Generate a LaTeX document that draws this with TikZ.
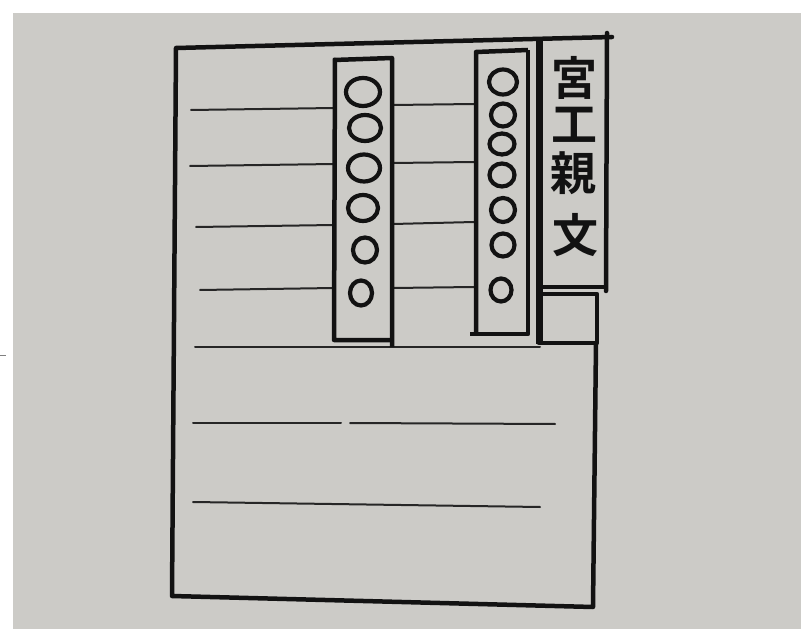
\documentclass[tikz,border=0pt]{standalone}
\usepackage{fontspec}
\newfontfamily\cjk{Noto Sans CJK JP}[BoldFont={Noto Sans CJK JP Bold}]
\definecolor{paper}{HTML}{CCCBC7}
\definecolor{ink}{HTML}{121212}
\definecolor{pencil}{HTML}{262626}
\tikzset{
  frame/.style={draw=ink, line width=4.5pt, line join=round, line cap=round},
  column/.style={draw=ink, line width=4.5pt, line join=round},
  rule/.style={draw=pencil, line width=2pt, line cap=round},
  ring/.style={draw=ink, line width=4.2pt},
  glyph/.style={text=ink, font=\cjk\bfseries\fontsize{46}{46}\selectfont, inner sep=0pt}
}
\begin{document}
\begin{tikzpicture}[x=1pt,y=-1pt]
\useasboundingbox (0,0) rectangle (801,631);
\fill[white] (0,0) rectangle (801,631);
\fill[paper] (13,13) rectangle (801,629);
\draw[draw=gray, line width=1pt] (0,355) -- (6,355);

% ruled lines, upper part
\draw[rule] (191,110) -- (334,108);
\draw[rule] (190,166) -- (334,164);
\draw[rule] (196,227) -- (334,225);
\draw[rule] (200,290) -- (334,288);
\draw[rule] (393,105) -- (474,104);
\draw[rule] (393,163) -- (474,162);
\draw[rule] (393,224) -- (474,222);
\draw[rule] (393,288) -- (474,287);
% ruled lines, lower part
\draw[rule] (195,347) -- (540,347);
\draw[rule] (193,423) -- (341,423);
\draw[rule] (350,423) -- (555,424);
\draw[rule] (193,502) -- (540,507);

% outer frame
\draw[frame] (612,37) -- (176,48) -- (172,596) -- (593,607) -- (596,343);
\draw[frame] (607,33) -- (606,291);

% first column of circles
\draw[column] (334,60) -- (392,58) -- (392,347);
\draw[column] (335,58) -- (334,340) -- (390,340);
\draw[ring] (363,92) ellipse [x radius=17, y radius=14];
\draw[ring] (365,128) ellipse [x radius=16, y radius=13];
\draw[ring] (364,168) ellipse [x radius=16, y radius=13.5];
\draw[ring] (363,208) ellipse [x radius=15, y radius=13];
\draw[ring] (365,250) ellipse [x radius=12, y radius=12.5];
\draw[ring] (361,293) ellipse [x radius=11, y radius=12.5];

% second column of circles
\draw[column] (528,50) -- (476,52) -- (476,334);
\draw[column] (470,334) -- (528,334) -- (528,50);
\draw[ring] (503,82) ellipse [x radius=14, y radius=12.5];
\draw[ring] (503,115) ellipse [x radius=12, y radius=11.5];
\draw[ring] (502,144) ellipse [x radius=12.5, y radius=10.5];
\draw[ring] (502,175) ellipse [x radius=12.5, y radius=11.5];
\draw[ring] (503,210) ellipse [x radius=12, y radius=12];
\draw[ring] (503,245) ellipse [x radius=11.5, y radius=11.5];
\draw[ring] (501,290) ellipse [x radius=10.5, y radius=11.5];

% name column
\draw[ink, line width=7pt] (539,38) -- (539,344);
\draw[frame] (539,287) -- (604,287);
\draw[frame] (539,294) -- (597,294) -- (597,343) -- (539,343);
\node[glyph] (c1) at (574,78) {宮};
\node[glyph] (c2) at (574,125) {工};
\node[glyph] (c3) at (573,173) {親};
\node[glyph] (c4) at (575,235) {文};
\end{tikzpicture}
\end{document}
